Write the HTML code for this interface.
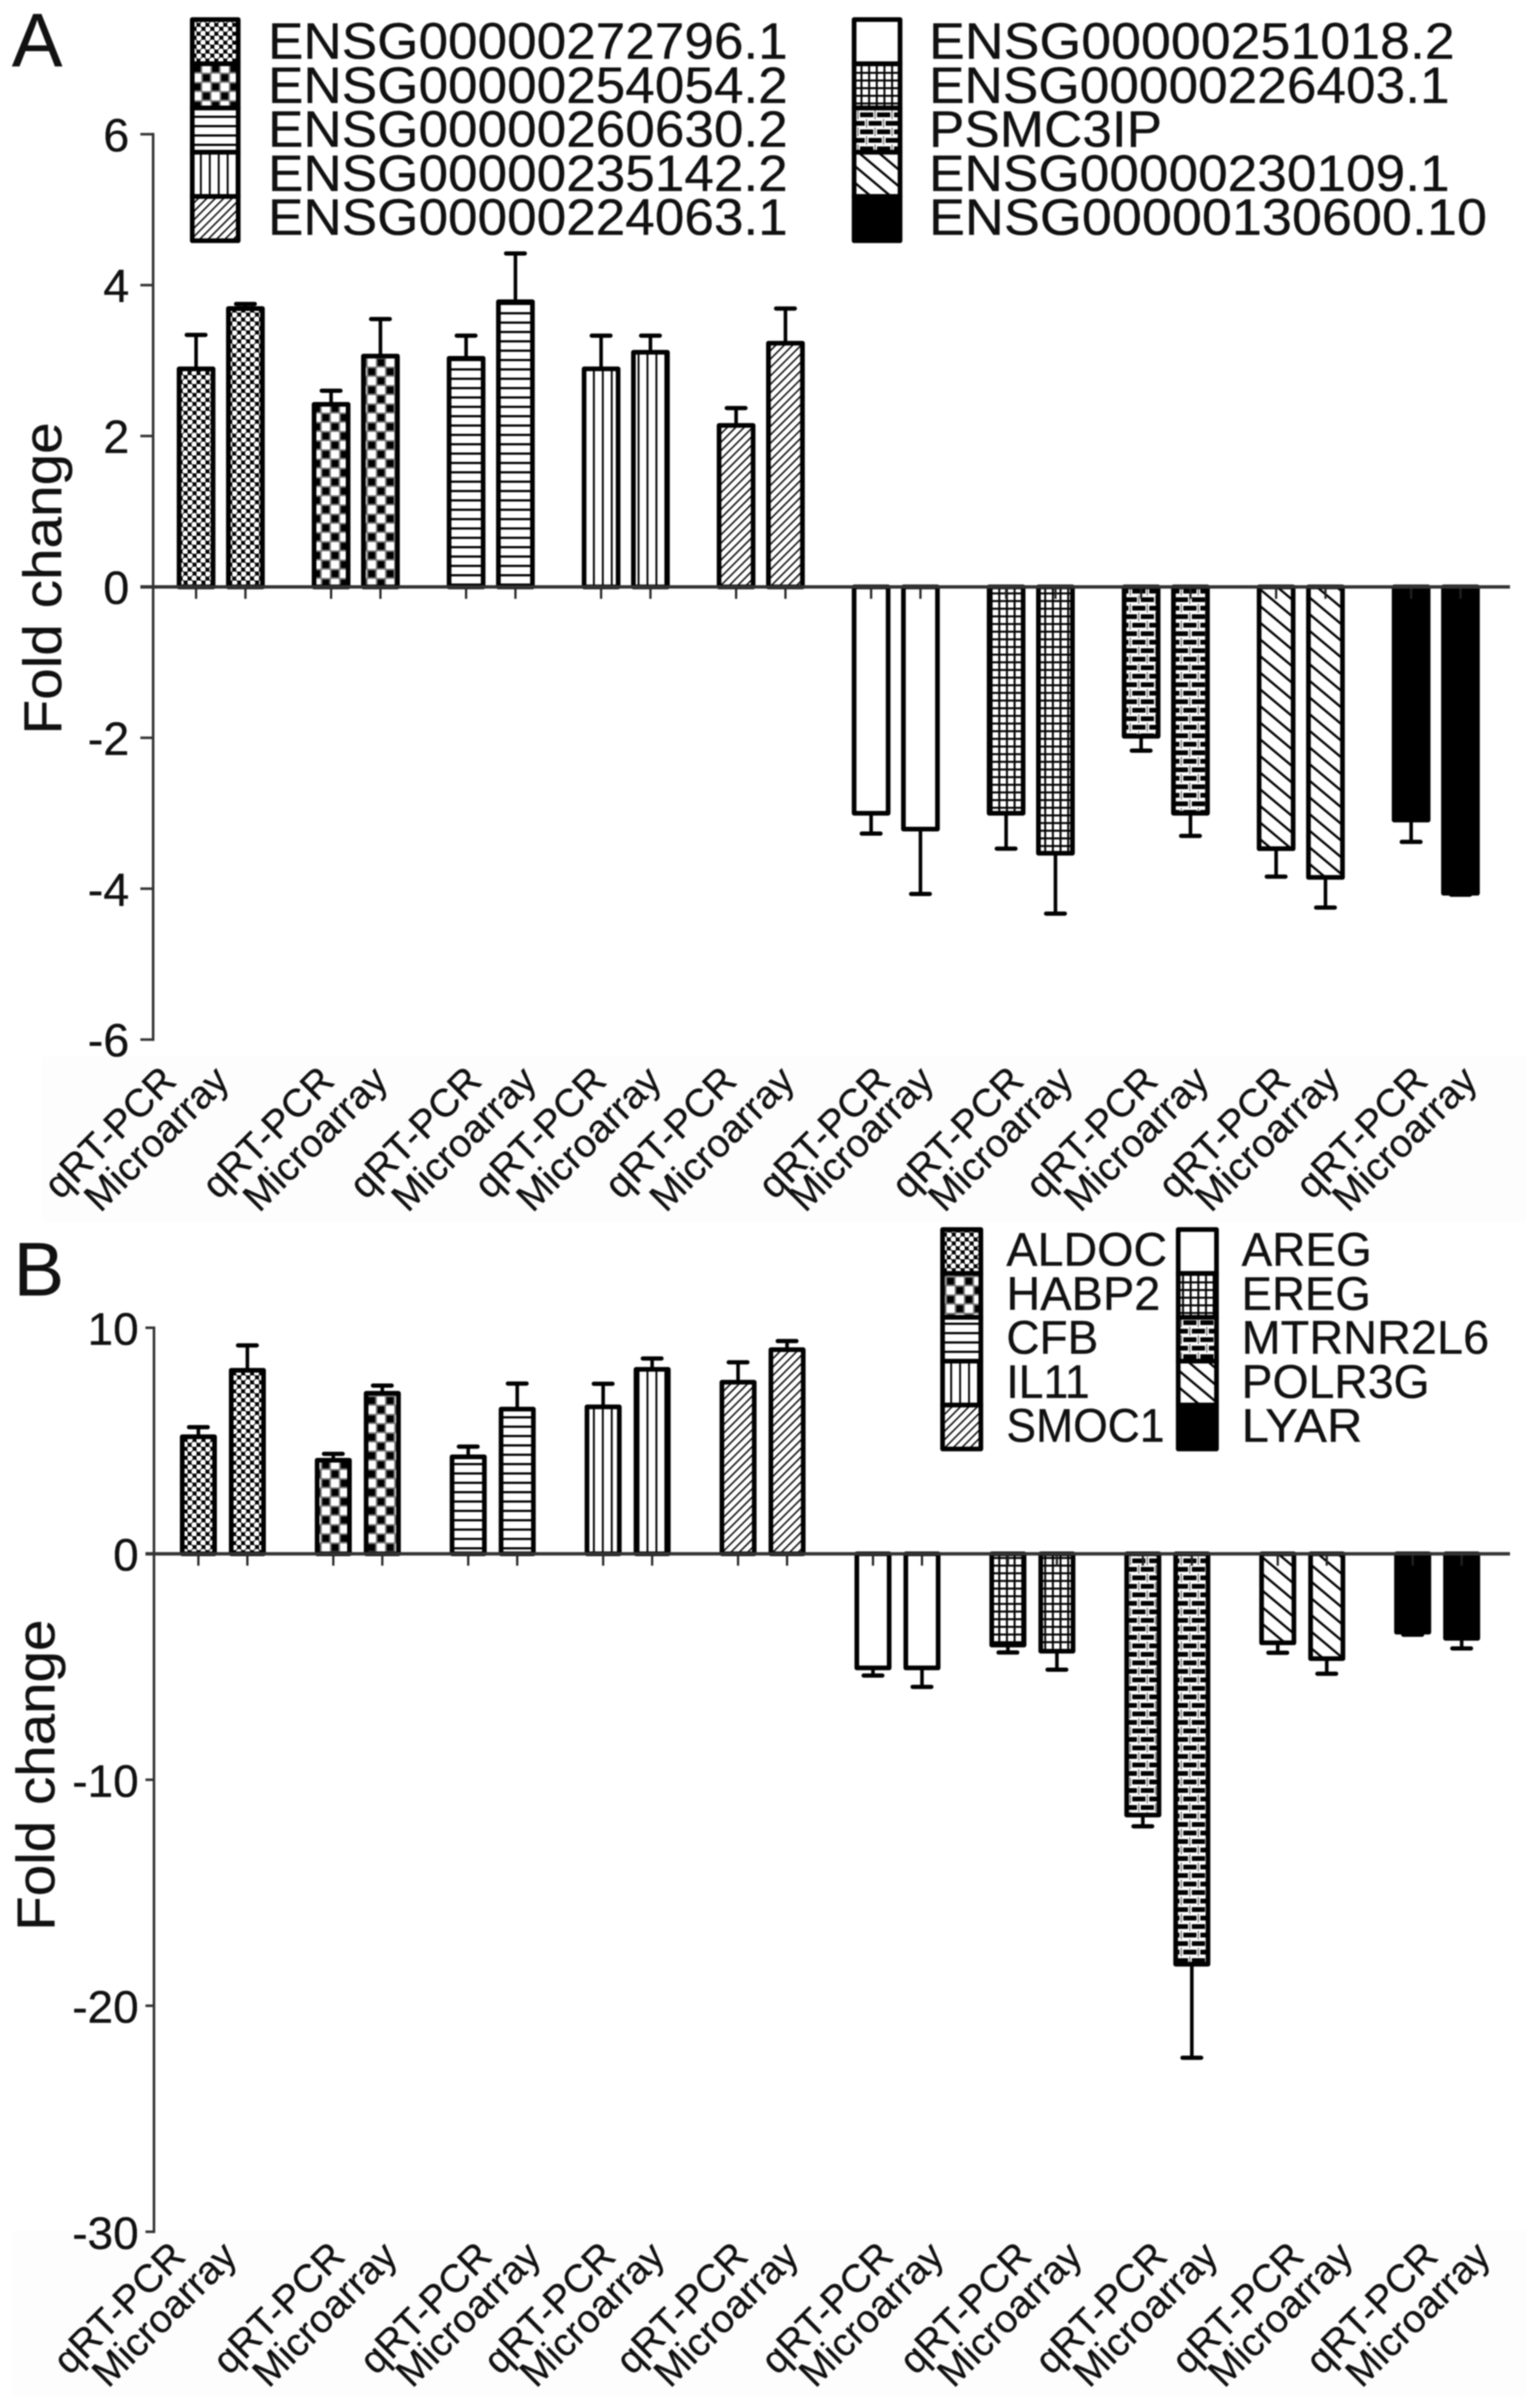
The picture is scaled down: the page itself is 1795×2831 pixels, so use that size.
<!DOCTYPE html>
<html lang="en">
<head>
<meta charset="utf-8">
<title>Fold change: qRT-PCR vs Microarray</title>
<style>
html,body{margin:0;padding:0;background:#fff;}
svg{display:block;filter:blur(0.8px);}
text{font-family:"Liberation Sans",Arial,sans-serif;fill:#111;stroke:#111;stroke-width:0.35px;}
</style>
</head>
<body>
<svg id="figure" xmlns="http://www.w3.org/2000/svg" width="1795" height="2831" viewBox="0 0 1795 2831">
<defs>
<pattern id="p0" patternUnits="userSpaceOnUse" width="10.5" height="10.5"><rect width="10.5" height="10.5" fill="#000"/><circle cx="2.6" cy="2.6" r="3.4" fill="#fff"/><circle cx="7.85" cy="7.85" r="3.4" fill="#fff"/></pattern>
<pattern id="p1" patternUnits="userSpaceOnUse" width="21.6" height="21.6"><rect width="21.6" height="21.6" fill="#777"/><rect x="1" y="1" width="8" height="8" fill="#000"/><rect x="11.8" y="11.8" width="8" height="8" fill="#000"/><rect x="11" y="0.2" width="9.6" height="9.6" fill="#fff"/><rect x="0.2" y="11" width="9.6" height="9.6" fill="#fff"/></pattern>
<pattern id="p2" patternUnits="userSpaceOnUse" width="12" height="11"><rect width="12" height="11" fill="#fff"/><rect y="4" width="12" height="2.6" fill="#000"/></pattern>
<pattern id="p3" patternUnits="userSpaceOnUse" width="10.5" height="12"><rect width="10.5" height="12" fill="#fff"/><rect x="4" width="2.2" height="12" fill="#000"/></pattern>
<pattern id="p4" patternUnits="userSpaceOnUse" width="7" height="7" patternTransform="rotate(45)"><rect width="7" height="7" fill="#fff"/><rect width="1.7" height="7" fill="#000"/></pattern>
<pattern id="p5" patternUnits="userSpaceOnUse" width="10" height="10"><rect width="10" height="10" fill="#fff"/></pattern>
<pattern id="p6" patternUnits="userSpaceOnUse" width="9" height="9"><rect width="9" height="9" fill="#fff"/><rect y="3.5" width="9" height="2.3" fill="#000"/><rect x="3.5" width="2.3" height="9" fill="#000"/></pattern>
<pattern id="p7" patternUnits="userSpaceOnUse" width="20" height="20"><rect width="20" height="20" fill="#fff"/><rect x="1" y="2.2" width="15.5" height="5.6" fill="#000"/><rect x="11" y="12.2" width="9" height="5.6" fill="#000"/><rect x="0" y="12.2" width="6.5" height="5.6" fill="#000"/><rect x="18" y="0" width="1.2" height="10" fill="#555"/><rect x="8" y="10" width="1.2" height="10" fill="#555"/></pattern>
<pattern id="p8" patternUnits="userSpaceOnUse" width="15" height="15" patternTransform="rotate(-50)"><rect width="15" height="15" fill="#fff"/><rect width="2.7" height="15" fill="#000"/></pattern>
<pattern id="p9" patternUnits="userSpaceOnUse" width="10" height="10"><rect width="10" height="10" fill="#000"/></pattern>
</defs>
<rect width="1795" height="2831" fill="#fff"/>
<rect x="49" y="1242" width="1746" height="195" fill="#fdfdfd"/>
<rect x="15" y="2622" width="1780" height="195" fill="#fdfdfd"/>
<text x="14" y="78" font-size="89">A</text>
<text x="16" y="1523" font-size="89">B</text>
<text x="72" y="680" font-size="63" text-anchor="middle" textLength="367" lengthAdjust="spacingAndGlyphs" transform="rotate(-90 72 680)">Fold change</text>
<text x="64" y="2087" font-size="63" text-anchor="middle" textLength="366" lengthAdjust="spacingAndGlyphs" transform="rotate(-90 64 2087)">Fold change</text>
<g id="panelA"></g>
<g id="panelB"></g>
</svg>
<script>
// Panel A data
const genesA = ["ENSG00000272796.1","ENSG00000254054.2","ENSG00000260630.2","ENSG00000235142.2","ENSG00000224063.1","ENSG00000251018.2","ENSG00000226403.1","PSMC3IP","ENSG00000230109.1","ENSG00000130600.10"];
const qrtA = [2.89,2.42,3.03,2.89,2.14,-3.0,-3.0,-1.98,-3.47,-3.09];
const microA = [3.69,3.06,3.78,3.11,3.23,-3.21,-3.53,-3.0,-3.85,-4.06];
const qrtErrA = [0.45,0.18,0.30,0.44,0.23,0.27,0.47,0.19,0.37,0.29];
const microErrA = [0.06,0.49,0.64,0.22,0.46,0.86,0.80,0.30,0.40,0.02];
const ticksA = [6,4,2,0,-2,-4,-6];
// Panel B data
const genesB = ["ALDOC","HABP2","CFB","IL11","SMOC1","AREG","EREG","MTRNR2L6","POLR3G","LYAR"];
const qrtB = [5.18,4.14,4.29,6.5,7.59,-5.05,-4.04,-11.56,-3.94,-3.47];
const microB = [8.12,7.1,6.4,8.16,9.03,-5.05,-4.31,-18.16,-4.64,-3.74];
const qrtErrB = [0.42,0.28,0.45,1.02,0.88,0.34,0.33,0.5,0.44,0.11];
const microErrB = [1.1,0.34,1.13,0.48,0.38,0.84,0.82,4.14,0.67,0.45];
const ticksB = [10,0,-10,-20,-30];
const methods = ["qRT-PCR","Microarray"];

const NS = "http://www.w3.org/2000/svg";
function make(parent, tag, attrs, txt) {
  const el = document.createElementNS(NS, tag);
  for (const k in attrs) el.setAttribute(k, attrs[k]);
  if (txt !== undefined) el.textContent = txt;
  parent.appendChild(el);
  return el;
}

function drawPanel(cfg) {
  const root = document.getElementById(cfg.id);
  const y = v => cfg.zeroY - cfg.unit * v;
  const x = (g, s) => cfg.firstX + cfg.groupStep * g + cfg.pairStep * s;
  const hw = cfg.halfWidth;

  // bars, whiskers
  [[cfg.qrt, cfg.qrtErr], [cfg.micro, cfg.microErr]].forEach(function (pair, s) {
    pair[0].forEach(function (v, g) {
      const cx = x(g, s);
      const sign = v >= 0 ? 1 : -1;
      const end = y(v);
      const tip = y(v + sign * pair[1][g]);
      const stem = make(root, "line", {x1: cx, x2: cx, y1: end, y2: tip, stroke: "#000", "stroke-width": 4.2});
      
      
      const cap = make(root, "line", {x1: cx - 11, x2: cx + 11, y1: tip, y2: tip, stroke: "#000", "stroke-width": 5, "stroke-linecap": "round"});
      
      
      const bar = make(root, "rect", {
        x: cx - hw, y: Math.min(end, cfg.zeroY), width: hw * 2, height: Math.abs(end - cfg.zeroY),
        fill: "url(#p" + g + ")", stroke: "#000", "stroke-width": 5.5, "stroke-linejoin": "round"
      });
      
      

      const tick = make(root, "line", {x1: cx, x2: cx, y1: cfg.zeroY, y2: cfg.zeroY + 14, stroke: "#222", "stroke-width": 2.6});
      
      

      const lx = cx + cfg.labelNudge[s][g];
      const lab = make(root, "text", {
        x: lx, y: cfg.labelY, "font-size": 46, "text-anchor": "end",
        transform: "rotate(-45 " + lx + " " + cfg.labelY + ")"
      }, methods[s]);
      
      
    });
  });

  // axes
  const yAxis = make(root, "line", {x1: cfg.axisX, x2: cfg.axisX, y1: y(cfg.ticks[0]) - 1.5, y2: y(cfg.ticks[cfg.ticks.length - 1]) + 1.5, stroke: "#333", "stroke-width": 3});
  
  
  const xAxis = make(root, "line", {x1: cfg.axisX - cfg.tickLen, x2: 1775, y1: cfg.zeroY, y2: cfg.zeroY, stroke: "#333", "stroke-width": 4});
  
  

  cfg.ticks.forEach(function (t) {
    const m = make(root, "line", {x1: cfg.axisX - cfg.tickLen, x2: cfg.axisX, y1: y(t), y2: y(t), stroke: "#333", "stroke-width": 3});
    
    
    const l = make(root, "text", {x: cfg.tickTextX, y: y(t) + 20, "font-size": cfg.tickFont, "text-anchor": "end"}, String(t));
    
    
  });

  // legend
  cfg.genes.forEach(function (name, i) {
    const col = i < 5 ? 0 : 1;
    const row = i % 5;
    const sw = make(root, "rect", {
      x: cfg.legX[col], y: cfg.legY + cfg.legRow * row, width: cfg.legW, height: cfg.legRow,
      fill: "url(#p" + i + ")", stroke: "#000", "stroke-width": 5.5, "stroke-linejoin": "round"
    });
    
    
    const tx = make(root, "text", {
      x: cfg.legTextX[col], y: cfg.legBase + cfg.legBaseRow * row, "font-size": cfg.legFont,
      textLength: cfg.legLen[i], lengthAdjust: "spacingAndGlyphs"
    }, name);
    
    
  });
}

drawPanel({
  id: "panelA", genes: genesA, qrt: qrtA, micro: microA, qrtErr: qrtErrA, microErr: microErrA, ticks: ticksA,
  zeroY: 690, unit: 88.7, firstX: 230.5, groupStep: 158.7, pairStep: 58, halfWidth: 20,
  axisX: 180, tickLen: 15, tickTextX: 152, tickFont: 55, labelY: 1273,
  labelNudge: [[-21,6,20.5,8.5,3,25,23,22,19,22],[-17,11,27,15,13,18,23,24,19,22]],
  legX: [226,1004], legY: 23, legRow: 52, legW: 54, legTextX: [315,1092],
  legBase: 69, legBaseRow: 51.8, legFont: 60,
  legLen: [611,611,611,611,611,618,612,274,612,656]
});

drawPanel({
  id: "panelB", genes: genesB, qrt: qrtB, micro: microB, qrtErr: qrtErrB, microErr: microErrB, ticks: ticksB,
  zeroY: 1826.7, unit: 26.57, firstX: 233.2, groupStep: 158.6, pairStep: 57.6, halfWidth: 19,
  axisX: 181, tickLen: 10, tickTextX: 163, tickFont: 54, labelY: 2655,
  labelNudge: [[-13,16,30,17,14,26,30,31,33,32],[-10,20,30,17,16,28,32,33,33,36]],
  legX: [1108,1385], legY: 1445.5, legRow: 51.6, legW: 45, legTextX: [1183,1459.5],
  legBase: 1488, legBaseRow: 51.8, legFont: 56,
  legLen: [189,181,108,98,186,153,152,291,221,142]
});
</script>
</body>
</html>
